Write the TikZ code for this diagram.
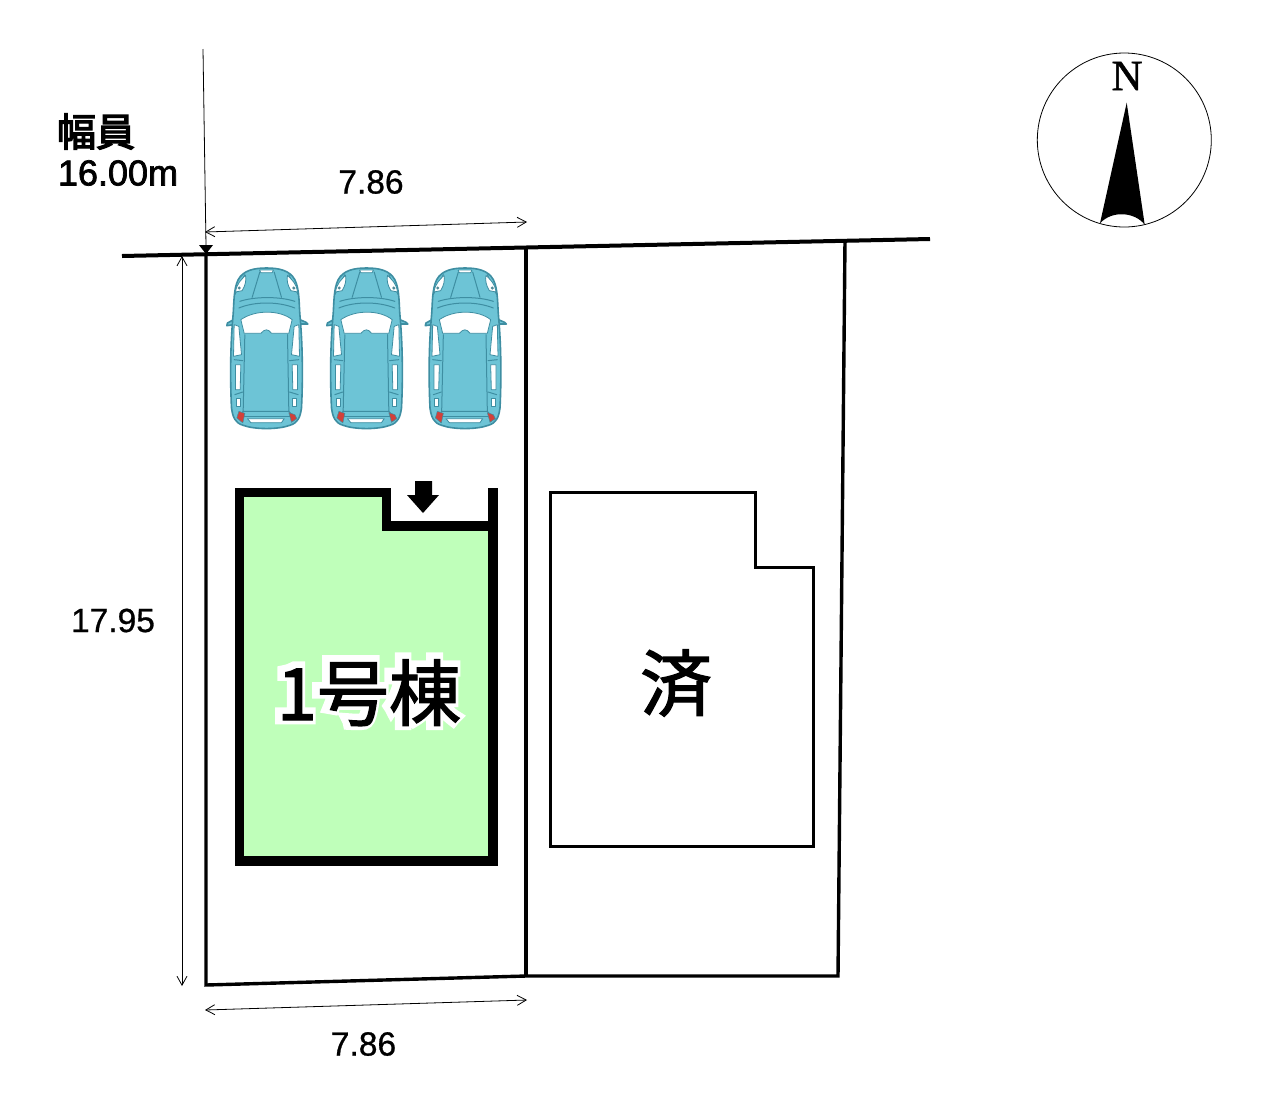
\documentclass[tikz,border=0pt]{standalone}
\usepackage{fontspec}
\setmainfont{Liberation Sans}[FakeBold=0.8]
\newfontfamily\cjkfont{Noto Sans CJK JP}[FakeBold=1.8]
\newfontfamily\cjkhead{Noto Sans CJK JP}[FakeBold=3.5]
\newfontfamily\haloa{Noto Sans CJK JP}[FakeBold=16]
\newfontfamily\serifn{Liberation Serif}[FakeBold=1]
\newfontfamily\latinbold{Liberation Sans}[FakeBold=2]
\usetikzlibrary{arrows.meta}
\definecolor{carfill}{HTML}{6DC4D6}
\definecolor{carline}{HTML}{3E8EA2}
\definecolor{carred}{HTML}{D2403A}
\definecolor{bldgreen}{HTML}{BFFFBA}
\newcommand{\halochar}[2]{\hbox to #1em{\hss #2\hss}}
\tikzset{
  boundary/.style={line width=3.4pt,line join=miter},
  roadline/.style={line width=4pt},
  bldfirst/.style={line width=9.5pt,line join=miter},
  bldsecond/.style={line width=3pt,line join=miter},
  dimline/.style={line width=0.8pt,{Straight Barb[length=9pt,width=10pt,line width=0.8pt]}-{Straight Barb[length=9pt,width=10pt,line width=0.8pt]}},
  dimtext/.style={font=\fontsize{33.5}{34}\selectfont,inner sep=0pt},
  carbody/.style={draw=carline,fill=carfill,line width=1.6pt,line join=round},
  carglass/.style={draw=carline,fill=white,line width=0.8pt,line join=round},
  carstroke/.style={draw=carline,line width=1pt,line cap=round},
  carlamp/.style={draw=carline,fill=carred,line width=0.5pt},
  car/.pic={
    \begin{scope}[x=0.3333pt,y=-0.3333pt,shift={(-155,-40)}]
      % mirrors
      \path[carbody] (62,192) -- (38,205) -- (36,213) -- (70,208) -- cycle;
      \path[carbody] (248,192) -- (274,203) -- (279,208) -- (240,208) -- cycle;
      % shell
      \path[carbody] (155,40) .. controls (195,40) and (225,48) .. (240,75)
        .. controls (255,105) and (252,150) .. (256,190)
        .. controls (264,280) and (264,380) .. (260,460)
        .. controls (256,490) and (248,505) .. (225,512)
        .. controls (190,525) and (120,525) .. (85,512)
        .. controls (62,505) and (54,490) .. (50,460)
        .. controls (46,380) and (46,280) .. (54,190)
        .. controls (58,150) and (55,105) .. (70,75)
        .. controls (85,48) and (115,40) .. (155,40) -- cycle;
      % side windows
      \path[carglass] (58,210) -- (72,215) -- (80,300) -- (56,305) -- cycle;
      \path[carglass] (252,210) -- (238,215) -- (230,300) -- (254,305) -- cycle;
      \path[carglass] (62,330) -- (78,330) -- (76,405) -- (62,405) -- cycle;
      \path[carglass] (248,330) -- (232,330) -- (234,405) -- (248,405) -- cycle;
      \path[carglass] (64,432) -- (76,432) -- (76,455) -- (64,455) -- cycle;
      \path[carglass] (246,432) -- (234,432) -- (234,455) -- (246,455) -- cycle;
      % bonnet details
      \path[carstroke] (75,140) .. controls (120,125) and (195,125) .. (240,140);
      \path[carstroke] (135,52) -- (112,128);
      \path[carstroke] (178,52) -- (200,128);
      \path[carstroke] (90,60) -- (60,120);
      \path[carstroke] (222,60) -- (250,120);
      \path[carglass] (134,46) -- (176,46) -- (172,54) -- (138,54) -- cycle;
      % headlamps
      \path[carglass] (92,62) .. controls (80,75) and (66,85) .. (62,112) -- (82,108) .. controls (92,92) and (95,75) .. (92,62) -- cycle;
      \path[carglass] (218,62) .. controls (230,75) and (245,85) .. (248,112) -- (228,108) .. controls (218,92) and (215,75) .. (218,62) -- cycle;
      \fill[carline!70!gray] (73,100) circle (5);
      \fill[carline!70!gray] (237,100) circle (5);
      % windscreen
      \path[carstroke] (72,160) .. controls (120,140) and (190,140) .. (240,160);
      \path[carglass] (78,195) .. controls (120,165) and (195,165) .. (232,195)
        -- (222,236) -- (170,236) .. controls (160,222) and (150,222) .. (138,236) -- (88,236) -- cycle;
      % roof and tail
      \path[carstroke] (90,240) -- (85,470) -- (222,470) -- (218,240);
      \path[carstroke] (76,485) -- (236,485);
      \path[carstroke] (85,470) -- (76,485);
      \path[carstroke] (222,470) -- (236,485);
      \path[carstroke] (58,315) -- (84,318);
      \path[carstroke] (252,315) -- (224,318);
      \path[carstroke] (60,420) -- (84,412);
      \path[carstroke] (250,420) -- (224,412);
      \path[carglass] (98,492) -- (208,492) -- (200,504) -- (108,504) -- cycle;
      % tail lamps
      \path[carlamp] (72,470) -- (90,476) -- (84,505) -- (66,490) -- cycle;
      \path[carlamp] (222,474) -- (240,480) -- (246,492) -- (230,503) -- cycle;
    \end{scope}
  }
}
\begin{document}
\begin{tikzpicture}[x=1pt,y=-1pt]
\useasboundingbox (0,0) rectangle (1273,1109);
\fill[white] (0,0) rectangle (1273,1109);
% named points
\coordinate (roadL) at (122,256);
\coordinate (roadR) at (930,239);
\coordinate (tl) at (206,254);
\coordinate (tm) at (526,247);
\coordinate (tr) at (845,240);
\coordinate (bl) at (206,985);
\coordinate (bm) at (526,976);
\coordinate (br) at (838,976);
% building 1
\path[fill=bldgreen] (239.5,492.5) -- (386.5,492.5) -- (386.5,526) -- (493,526) -- (493,861) -- (239.5,861) -- cycle;
\draw[bldfirst] (493,488) -- (493,861) -- (239.5,861) -- (239.5,492.5) -- (386.5,492.5) -- (386.5,526) -- (493,526);
% lot
\draw[roadline] (roadL) -- (roadR);
\draw[boundary] (tl) -- (bl) -- (bm) -- (br) -- (tr);
\draw[boundary] (tm) -- (bm);
% building 2
\draw[bldsecond] (550,492.5) -- (755,492.5) -- (755,567) -- (813,567) -- (813,846) -- (550,846) -- cycle;
% entrance arrow
\fill (415,481) -- (432,481) -- (432,495) -- (439,495) -- (423,513) -- (407,495) -- (415,495) -- cycle;
% road width tick
\coordinate (tickTop) at (203,49);
\coordinate (tickEnd) at (206,246);
\draw[line width=0.8pt] (tickTop) -- (tickEnd);
\fill (199,245) -- (213,245) -- (206,254) -- cycle;
% dimensions
\coordinate (d1a) at (205,232); \coordinate (d1b) at (527,222);
\coordinate (d2a) at (205,1010); \coordinate (d2b) at (527,1000);
\coordinate (d3a) at (182,256); \coordinate (d3b) at (182,986);
\draw[dimline] (d1a) -- (d1b);
\draw[dimline] (d2a) -- (d2b);
\draw[dimline] (d3a) -- (d3b);
\node[dimtext] (w1) at (371,182) {7.86};
\node[dimtext] (w2) at (363.5,1044) {7.86};
\node[dimtext] (h1) at (113,620.5) {17.95};
\node[inner sep=0pt] (roadname) at (96,131.5) {\fontsize{39}{39}\cjkhead 幅員};
\node[inner sep=0pt] (roadwidth) at (118,173) {\fontsize{36}{36}\latinbold 16.00m};
% cars
\pic at (266.5,268) {car};
\pic at (366.5,268) {car};
\pic at (465,268) {car};
% building labels
\node[inner sep=0pt] (b1) at (369,692) {\fontsize{72}{72}\selectfont\rlap{\kern-2.5pt\raisebox{1.5pt}{\color{white}\haloa\halochar{0.555}{1}\halochar{1}{号}\halochar{1}{棟}}}\cjkfont\halochar{0.555}{1}\halochar{1}{号}\halochar{1}{棟}};
\node[inner sep=0pt] (b2) at (676,683) {\fontsize{72}{72}\cjkfont 済};
% compass
\draw[line width=0.8pt] (1124.3,140) circle (87);
\fill (1126.7,102.7) -- (1144.7,224.7) .. controls (1135,212) and (1112,210) .. (1100,223.3) -- cycle;
\node[inner sep=0pt] (north) at (1127,76) {\fontsize{43}{43}\serifn N};
\end{tikzpicture}
\end{document}
